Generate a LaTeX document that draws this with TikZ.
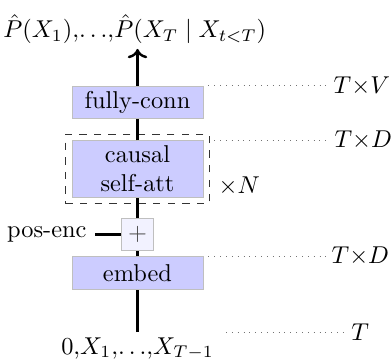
\documentclass[tikz,border=0pt]{standalone}
\usepackage{amsmath,amssymb}
\usepackage{xcolor}
\usepackage{tikz}
\usetikzlibrary{arrows.meta,positioning,calc,fit}

\begin{document}
\begin{tikzpicture}[>=To,
  block/.style={draw=black!25,fill=blue!20,align=center,minimum width=1.89cm,
    minimum height=13.3pt,inner sep=2pt},
  plusbox/.style={draw=black!25,fill=blue!5,minimum size=0.46cm,inner sep=0pt},
  flow/.style={line width=1pt},
  dimline/.style={dotted,black!55}]
  \useasboundingbox (-1.984,0) rectangle (3.672,5.195);

  % Layers
  \node[block] (embed) at (0,1.255) {embed};
  \node[plusbox] (plus) at (0,1.811) {\textcolor{black!70}{$+$}};
  \node[block] (attn) at (0,2.756) {causal\\self-att};
  \node[block] (fc) at (0,3.716) {fully-conn};
  \node[draw,dashed,black!80,fit=(attn),inner sep=0.087cm] (rep) {};
  \node[above right] (reps) at (rep.south east) {$\times N$};
  \node[left=0.375cm of plus] (pe) {pos-enc};

  % Input and output
  \node[anchor=north,inner sep=2pt] (inp) at (0,0.404)
    {$0{,}X_1{,}{\ldots}{,}X_{T-1}$};
  \node[anchor=south,inner sep=2pt] (out) at (-0.04,4.488)
    {$\hat{P}(X_1){,}{\ldots}{,}\hat{P}(X_T \mid X_{t<T})$};

  % Data flow
  \draw[flow] (inp.north) -- (embed.south);
  \draw[flow] (embed.north) -- (plus.south);
  \draw[flow] (plus.north) -- (attn.south);
  \draw[flow] (attn.north) -- (fc.south);
  \draw[flow,->] (fc.north) -- (out.south -| fc.north);
  \draw[flow] (pe.east) -- (plus.west);

  % Tensor shapes
  \draw[dimline] ($(fc.north east)+(0.072,0)$) -- ++(1.73,0)
    node[right,black,inner sep=2pt] {$T{\times}V$};
  \draw[dimline] ($(attn.north east -| rep.east)+(0.06,0)$) -- ++(1.66,0)
    node[right,black,inner sep=2pt] {$T{\times}D$};
  \draw[dimline] ($(embed.north east)+(0.072,0)$) -- ++(1.70,0)
    node[right,black,inner sep=2pt] {$T{\times}D$};
  \draw[dimline] ($(inp.north east)+(0.1,0)$) -- ++(1.73,0)
    node[right,black,inner sep=2pt] {$T$};
\end{tikzpicture}
\end{document}
